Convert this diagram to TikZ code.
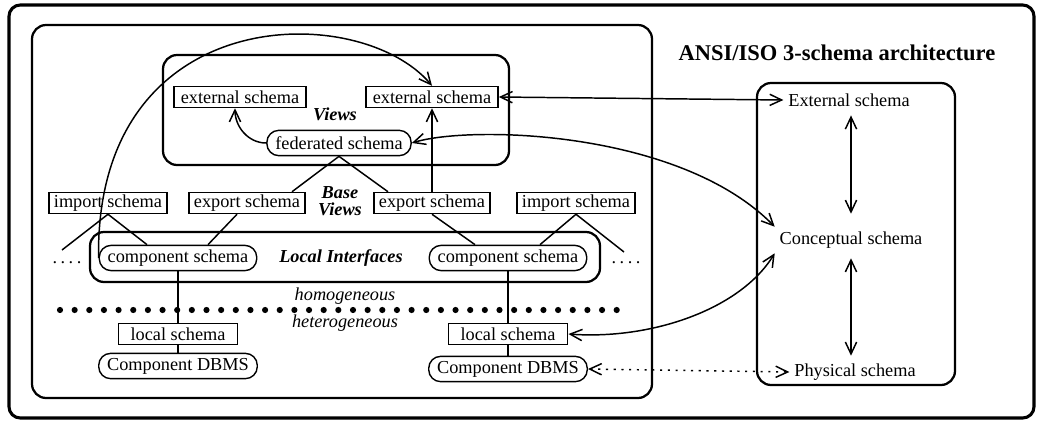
\documentclass[tikz,border=0pt]{standalone}
\usepackage{fontspec}
\setmainfont{Liberation Serif}
\usepackage{tikz}
\usetikzlibrary{arrows.meta,calc}

\begin{document}
\begin{tikzpicture}[x=0.025cm, y=-0.025cm,
    every node/.style={font=\fontsize{13}{15}\selectfont},
    box/.style={draw, line width=1pt, inner xsep=3.5pt, inner ysep=1pt, minimum height=15pt},
    pill/.style={draw, line width=1pt, rounded corners=8.5pt, inner xsep=6pt, inner ysep=1pt, minimum height=18pt},
    lbl/.style={font=\fontsize{13}{15}\selectfont\bfseries\itshape},
    ital/.style={font=\fontsize{13}{15}\selectfont\itshape},
    frame/.style={line width=1.6pt, rounded corners=10pt},
    link/.style={line width=1.05pt},
    >={Straight Barb[length=8.5pt,width=8pt]}]

\useasboundingbox (0,0) rectangle (1041,422);

% Frames
\draw[line width=2.2pt, rounded corners=8pt] (9,5) rectangle (1034,418);
\draw[frame] (32,25) rectangle (652,398);
\draw[frame] (163,55) rectangle (509,165);
\draw[frame] (90,232) rectangle (600,282);
\draw[frame] (757,83) rectangle (955,385);

% ANSI/ISO side
\node[font=\fontsize{16}{19}\selectfont\bfseries] (title) at (837,53) {ANSI/ISO 3-schema architecture};
\node (extS) at (849,100) {External schema};
\node (conS) at (851,240) {Conceptual schema};
\node (phyS) at (855,372) {Physical schema};

% Views
\node[box, minimum width=94pt] (ext1) at (240,97) {external schema};
\node[box, minimum width=94pt] (ext2) at (432,97) {external schema};
\node[lbl] (views) at (335,114) {Views};
\node[pill] (fed) at (339,143) {federated schema};

% Base views
\node[box] (imp1) at (108,203) {import schema};
\node[box] (exp1) at (247,203) {export schema};
\node[lbl, align=center] (base) at (340,201) {Base\\[-3pt]Views};
\node[box] (exp2) at (432,203) {export schema};
\node[box] (imp2) at (576,203) {import schema};

% Local interfaces
\node[pill] (comp1) at (178,258) {component schema};
\node[lbl] (local) at (341,258) {Local Interfaces};
\node[pill] (comp2) at (508,258) {component schema};
\node (dotsL) at (67,263) {.\hspace{2.5pt}.\hspace{2.5pt}.\hspace{2.5pt}.};
\node (dotsR) at (626,263) {.\hspace{2.5pt}.\hspace{2.5pt}.\hspace{2.5pt}.};
\coordinate (endL) at (62,250);
\coordinate (endR) at (624,252);

% Homogeneous / heterogeneous border
\node[ital] (homo) at (345,296) {homogeneous};
\node[ital] (hetero) at (345,323) {heterogeneous};
\foreach \i in {0,...,38}
    \fill (60+14.65*\i,310) circle (2.2pt);

% Local schemas and DBMS
\node[box, minimum width=85pt] (loc1) at (178,334) {local schema};
\node[pill] (dbms1) at (178,366) {Component DBMS};
\node[box, minimum width=85pt] (loc2) at (508,334) {local schema};
\node[pill] (dbms2) at (508,369) {Component DBMS};

% Connectors inside the federation
\draw[link,->] (fed.west) to[out=180,in=-90] ($(ext1.south)+(-5,0)$);
\draw[link,->] (exp2.north) -- (ext2.south);
\draw[link] (fed.south) -- ($(exp1.north)+(45,0)$);
\draw[link] (fed.south) -- ($(exp2.north)+(-44,0)$);
\draw[link] (endL) -- (imp1.south) -- ($(comp1.north)+(-31,0)$);
\draw[link] ($(exp1.south)+(-10,0)$) -- ($(comp1.north)+(30,0)$);
\draw[link] (exp2.south) -- ($(comp2.north)+(-33,0)$);
\draw[link] (endR) -- (imp2.south) -- ($(comp2.north)+(32,0)$);
\draw[link] (comp1.south) -- (loc1.north);
\draw[link] (loc1.south) -- (dbms1.north);
\draw[link] (comp2.south) -- (loc2.north);
\draw[link] (loc2.south) -- (dbms2.north);
\draw[link,->] (comp1.west) .. controls (95,0) and (360,0) .. (ext2.north);

% Connectors to the 3-schema architecture
\draw[link,<->] (ext2.east) -- (extS.west);
\draw[link,<->] (fed.east) .. controls (470,125) and (680,130) .. (conS.north west);
\draw[link,<->] (loc2.east) .. controls (650,340) and (740,310) .. (conS.south west);
\draw[link,<->,dash pattern=on 1.5pt off 4pt] (dbms2.east) -- (phyS.west);
\draw[link,<->] ($(extS.south -| conS.north)+(0,4)$) -- ($(conS.north)+(0,-13)$);
\draw[link,<->] ($(conS.south)+(0,5)$) -- ($(phyS.north -| conS.south)+(0,-3)$);

\end{tikzpicture}
\end{document}
